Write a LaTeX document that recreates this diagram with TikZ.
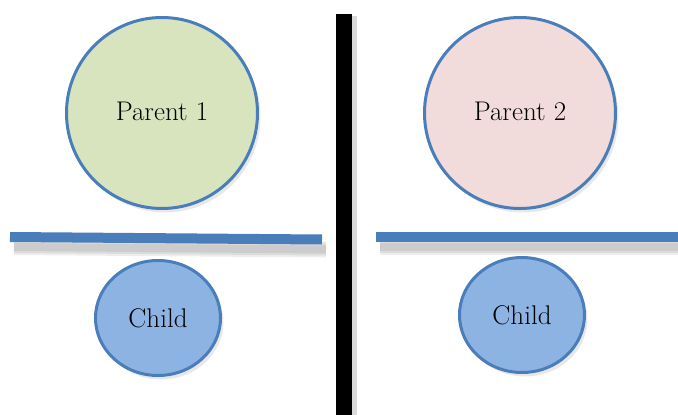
\documentclass[tikz,border=0pt]{standalone}
\usepackage{xcolor}
\usepackage{tikz}
\usetikzlibrary{positioning,shapes.geometric,shadows}

\definecolor{bordo}{HTML}{4A7EBB}
\definecolor{verde}{HTML}{D7E4BD}
\definecolor{rosa}{HTML}{F2DCDB}
\definecolor{azzurro}{HTML}{8DB3E2}

\begin{document}
\begin{tikzpicture}[x=1pt, y=-1pt,
    genitore/.style={circle, draw=bordo, line width=3pt, minimum size=191pt, inner sep=0pt,
      font=\fontsize{27}{32}\selectfont,
      drop shadow={shadow xshift=3pt, shadow yshift=-4pt, opacity=0.18}},
    figlio/.style={ellipse, draw=bordo, fill=azzurro, line width=3pt, minimum width=125pt,
      minimum height=115pt, inner sep=0pt, font=\fontsize{27}{32}\selectfont,
      drop shadow={shadow xshift=3pt, shadow yshift=-4pt, opacity=0.18}},
    barra/.style={draw=bordo, line width=10pt},
    ombra/.style={draw=black, opacity=0.07}]
      \useasboundingbox (0,0) rectangle (678,415);

      % Disegno delle barre
      \foreach \w in {16,12,8} {
        \draw[ombra, line width=\w pt] (14,247) -- (326,249.5);
        \draw[ombra, line width=\w pt] (380,247) -- (678,247);
      }
      \draw[barra] (10,237) -- (322,239.5);
      \draw[barra] (376,237) -- (678,237);
      \fill[black!15] (352,16) rectangle (357,415);
      \fill[black] (336,14) rectangle (352,415);

      % Disegno dei nodi
      \node[genitore, fill=verde] (p1) at (162,113) {\raisebox{3pt}{Parent 1}};
      \node[genitore, fill=rosa] (p2) at (520,113) {\raisebox{3pt}{Parent 2}};
      \node[figlio] (f1) at (158,318) {Child};
      \node[figlio] (f2) at (522,315) {Child};
    \end{tikzpicture}
\end{document}
